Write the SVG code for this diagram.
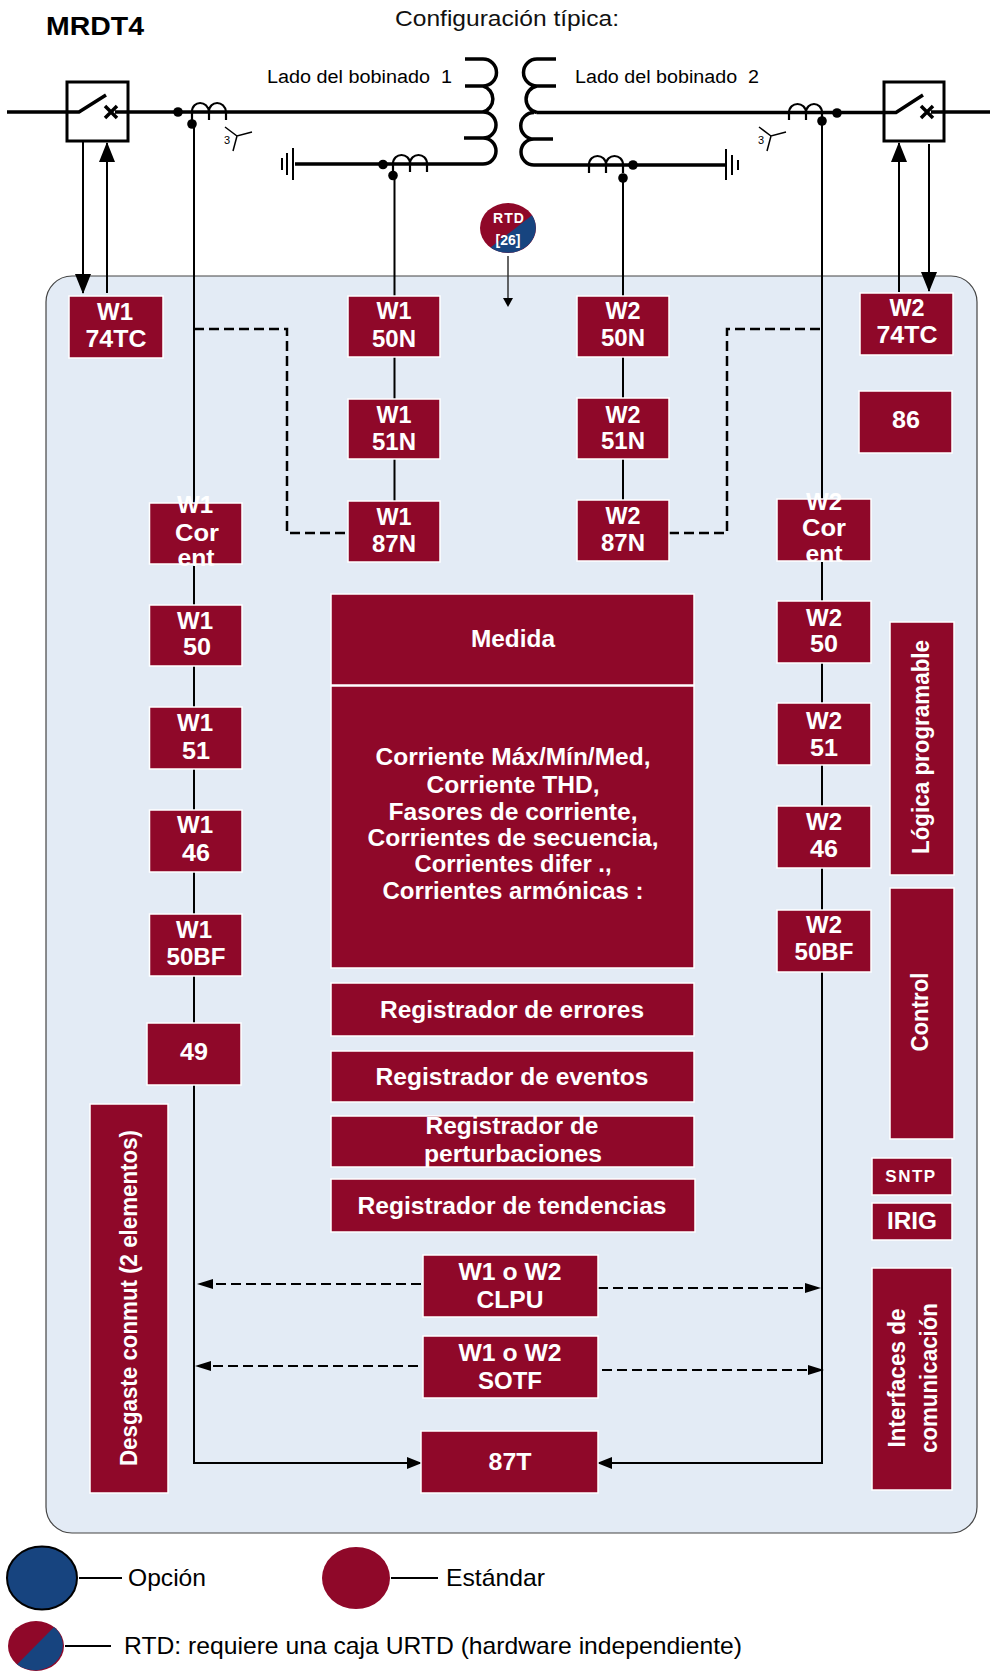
<svg xmlns="http://www.w3.org/2000/svg" width="990" height="1671" viewBox="0 0 990 1671">
<style>
text{font-family:"Liberation Sans",Arial,sans-serif}
.b{fill:#8F0829;stroke:#fff;stroke-width:1.5}
.t{fill:#fff;font-weight:bold;font-size:23px;text-anchor:middle}
.l{fill:none;stroke:#000;stroke-width:2}
.h{fill:none;stroke:#000;stroke-width:3.5}
.c{fill:none;stroke:#000;stroke-width:2.2}
.s{fill:none;stroke:#000;stroke-width:1.5}
.d{fill:none;stroke:#000;stroke-width:2.5;stroke-dasharray:10 5}
.e{fill:none;stroke:#000;stroke-width:2;stroke-dasharray:10 5}
.n{fill:#000;font-size:18px}
.k{fill:#000;font-size:24px}
</style>
<defs>
<marker id="big" markerUnits="userSpaceOnUse" markerWidth="20" markerHeight="16" refX="19" refY="8" viewBox="0 0 20 16" orient="auto" overflow="visible"><path d="M0 0L20 8L0 16Z" fill="#000"/></marker>
<marker id="mid" markerUnits="userSpaceOnUse" markerWidth="15" markerHeight="12" refX="14" refY="6" viewBox="0 0 15 12" orient="auto"><path d="M0 0L15 6L0 12Z" fill="#000"/></marker>
<marker id="small" markerUnits="userSpaceOnUse" markerWidth="16" markerHeight="10" refX="15" refY="5" viewBox="0 0 16 10" orient="auto"><path d="M0 0L16 5L0 10Z" fill="#000"/></marker>
</defs>
<rect width="990" height="1671" fill="#fff"/>
<rect id="panel" x="46" y="276" width="931" height="1257" rx="26" ry="26" fill="#E3EBF5" stroke="#444" stroke-width="1.2"/>
<text id="title" x="46" y="35" font-size="25" font-weight="bold" textLength="98" lengthAdjust="spacingAndGlyphs">MRDT4</text>
<text id="config" x="395" y="26" font-size="22" fill="#111" textLength="224" lengthAdjust="spacingAndGlyphs">Configuración típica:</text>
<g id="connectors">
<path class="h" d="M7 112H79L106 95M105 106L117 118M105 118L117 106M115 112H483"/>
<path class="h" d="M537 112.500H896L923 95M921 106L933 118M921 118L933 106M931 112H990"/>
<path class="h" d="M465 59H483A13.500 13.500 0 0 1 483 86H465M483 86A13.500 13.500 0 0 1 483 112M483 112A13 13 0 0 1 483 138H464M483 138A13 13 0 0 1 483 164"/>
<path class="h" d="M556 59H537A13.500 13.500 0 0 0 537 86H556M537 86A13.500 13.500 0 0 0 537 112.500M534 112.500A13 13 0 0 0 534 139H553M534 139A13 13 0 0 0 534 165"/>
<path class="h" d="M295 164H483M726 165H534"/>
<path class="c" d="M192 120V112C192 100 208 100 209 112V120M209 112C209 100 225 100 226 112V120"/>
<path class="c" d="M393 172V164C393 152 410 152 410 164V172M410 164C410 152 427 152 427 164V172"/>
<path class="c" d="M589 173V165C589 153 606 153 606 165V173M606 165C606 153 623 153 623 165V173"/>
<path class="c" d="M789 120V113C789 101 806 101 806 113V120M806 113C806 101 822 101 822 113V120"/>
<circle cx="178" cy="112" r="4.800"/><circle cx="192" cy="124" r="4.800"/><circle cx="383" cy="164.500" r="4.800"/><circle cx="393" cy="175.500" r="4.800"/>
<circle cx="633" cy="165" r="4.800"/><circle cx="623" cy="178" r="4.800"/><circle cx="837" cy="113" r="4.800"/><circle cx="822" cy="121" r="4.800"/>
<path class="l" d="M293 148V180M287 153V175M282 158V170"/>
<path class="l" d="M726 149V180M732 155V175M738 160V170"/>
<path class="s" d="M225 127L237 136L252 132M237 136L233 151"/>
<path class="s" d="M759 127L771 136L786 132M771 136L767 151"/>
<text x="224" y="144" font-size="11" fill="#000">3</text>
<text x="758" y="144" font-size="11" fill="#000">3</text>
<path class="l" d="M83 141V293" marker-end="url(#big)"/>
<path class="l" d="M107 293V143" marker-end="url(#big)"/>
<path class="l" d="M899 292V143" marker-end="url(#big)"/>
<path class="l" d="M929 144V291" marker-end="url(#big)"/>
<path class="l" d="M194 124V503M194 564V605M194 666V707M194 769V810M194 872V914M194 976V1023"/>
<path class="l" d="M194 1085V1463H421" marker-end="url(#mid)"/>
<path class="l" d="M822 121V499M822 561V601M822 663V703M822 765V806M822 868V910"/>
<path class="l" d="M822 972V1463H598" marker-end="url(#mid)"/>
<path class="l" d="M394.500 175V296M394.500 357V399M394.500 459V501"/>
<path class="l" d="M623 178V296M623 357V398M623 459V500"/>
<path class="d" d="M194 329H287V533H349"/>
<path class="d" d="M669 533H727V329H822"/>
<path class="e" d="M421 1284H198" marker-end="url(#small)"/>
<path class="e" d="M598 1288H820" marker-end="url(#small)"/>
<path class="e" d="M418 1366H196" marker-end="url(#small)"/>
<path class="e" d="M602 1370H823" marker-end="url(#small)"/>
<path d="M508 256V300" fill="none" stroke="#333" stroke-width="1.500"/>
<path d="M503 298H513L508 307Z" fill="#000"/>
<path class="l" d="M79 1578H122M391 1578H438M65 1646H111"/>
</g>
<text id="lado1" class="n" x="267" y="83" xml:space="preserve" textLength="185" lengthAdjust="spacingAndGlyphs">Lado del bobinado  1</text>
<text id="lado2" class="n" x="575" y="83" xml:space="preserve" textLength="184" lengthAdjust="spacingAndGlyphs">Lado del bobinado  2</text>
<g id="breaker1"><rect x="67" y="82" width="61" height="59" fill="none" stroke="#000" stroke-width="3"/></g>
<g id="breaker2"><rect x="884" y="82" width="60" height="59" fill="none" stroke="#000" stroke-width="3"/></g>
<g id="rtd"><ellipse cx="508" cy="228" rx="28" ry="25" fill="#8F0829"/><path d="M490.500 247.500L532 215.300A28 25 0 0 1 490.500 247.500Z" fill="#17447F"/><text x="509" y="223" fill="#fff" font-weight="bold" font-size="14" text-anchor="middle" letter-spacing="1">RTD</text><text x="508" y="245" fill="#fff" font-weight="bold" font-size="14" text-anchor="middle">[26]</text></g>
<g id="w1-74tc"><rect class="b" x="69" y="296" width="94" height="62"/><text class="t" x="115" y="320" textLength="36" lengthAdjust="spacingAndGlyphs">W1</text><text class="t" x="116" y="347" textLength="61" lengthAdjust="spacingAndGlyphs">74TC</text></g>
<g id="w1-50n"><rect class="b" x="348" y="296" width="92" height="61"/><text class="t" x="394" y="319" textLength="35" lengthAdjust="spacingAndGlyphs">W1</text><text class="t" x="394" y="347" textLength="44" lengthAdjust="spacingAndGlyphs">50N</text></g>
<g id="w1-51n"><rect class="b" x="348" y="399" width="92" height="60"/><text class="t" x="394" y="423" textLength="35" lengthAdjust="spacingAndGlyphs">W1</text><text class="t" x="394" y="450" textLength="44" lengthAdjust="spacingAndGlyphs">51N</text></g>
<g id="w1-87n"><rect class="b" x="348" y="501" width="92" height="61"/><text class="t" x="394" y="525" textLength="35" lengthAdjust="spacingAndGlyphs">W1</text><text class="t" x="394" y="552" textLength="44" lengthAdjust="spacingAndGlyphs">87N</text></g>
<g id="w2-50n"><rect class="b" x="577" y="296" width="92" height="61"/><text class="t" x="623" y="319" textLength="35" lengthAdjust="spacingAndGlyphs">W2</text><text class="t" x="623" y="346" textLength="44" lengthAdjust="spacingAndGlyphs">50N</text></g>
<g id="w2-51n"><rect class="b" x="577" y="398" width="92" height="61"/><text class="t" x="623" y="423" textLength="35" lengthAdjust="spacingAndGlyphs">W2</text><text class="t" x="623" y="449" textLength="44" lengthAdjust="spacingAndGlyphs">51N</text></g>
<g id="w2-87n"><rect class="b" x="577" y="500" width="92" height="61"/><text class="t" x="623" y="524" textLength="35" lengthAdjust="spacingAndGlyphs">W2</text><text class="t" x="623" y="551" textLength="44" lengthAdjust="spacingAndGlyphs">87N</text></g>
<g id="w2-74tc"><rect class="b" x="860" y="293" width="93" height="62"/><text class="t" x="907" y="316" textLength="35" lengthAdjust="spacingAndGlyphs">W2</text><text class="t" x="907" y="343" textLength="61" lengthAdjust="spacingAndGlyphs">74TC</text></g>
<g id="n86"><rect class="b" x="859" y="391" width="93" height="62"/><text class="t" x="906" y="428" textLength="28" lengthAdjust="spacingAndGlyphs">86</text></g>
<g id="w1-cor"><rect class="b" x="149.500" y="503" width="92.500" height="61"/><text class="t" x="195" y="513" textLength="36" lengthAdjust="spacingAndGlyphs">W1</text><text class="t" x="197" y="541" textLength="44" lengthAdjust="spacingAndGlyphs">Cor</text><text class="t" x="196" y="566" textLength="37" lengthAdjust="spacingAndGlyphs">ent</text></g>
<g id="w1-50"><rect class="b" x="149.500" y="605" width="92.500" height="61"/><text class="t" x="195" y="629" textLength="36" lengthAdjust="spacingAndGlyphs">W1</text><text class="t" x="197" y="655" textLength="28" lengthAdjust="spacingAndGlyphs">50</text></g>
<g id="w1-51"><rect class="b" x="149.500" y="707" width="92.500" height="62"/><text class="t" x="195" y="731" textLength="36" lengthAdjust="spacingAndGlyphs">W1</text><text class="t" x="196" y="759" textLength="28" lengthAdjust="spacingAndGlyphs">51</text></g>
<g id="w1-46"><rect class="b" x="149.500" y="810" width="92.500" height="62"/><text class="t" x="195" y="833" textLength="36" lengthAdjust="spacingAndGlyphs">W1</text><text class="t" x="196" y="861" textLength="28" lengthAdjust="spacingAndGlyphs">46</text></g>
<g id="w1-50bf"><rect class="b" x="149.500" y="914" width="92.500" height="62"/><text class="t" x="194" y="938" textLength="36" lengthAdjust="spacingAndGlyphs">W1</text><text class="t" x="196" y="965" textLength="59" lengthAdjust="spacingAndGlyphs">50BF</text></g>
<g id="n49"><rect class="b" x="147" y="1023" width="94" height="62"/><text class="t" x="194" y="1060" textLength="28" lengthAdjust="spacingAndGlyphs">49</text></g>
<g id="w2-cor"><rect class="b" x="777" y="499" width="94" height="62"/><text class="t" x="824" y="510" textLength="36" lengthAdjust="spacingAndGlyphs">W2</text><text class="t" x="824" y="536" textLength="44" lengthAdjust="spacingAndGlyphs">Cor</text><text class="t" x="824" y="562" textLength="37" lengthAdjust="spacingAndGlyphs">ent</text></g>
<g id="w2-50"><rect class="b" x="777" y="601" width="94" height="62"/><text class="t" x="824" y="626" textLength="36" lengthAdjust="spacingAndGlyphs">W2</text><text class="t" x="824" y="652" textLength="28" lengthAdjust="spacingAndGlyphs">50</text></g>
<g id="w2-51"><rect class="b" x="777" y="703" width="94" height="62"/><text class="t" x="824" y="729" textLength="36" lengthAdjust="spacingAndGlyphs">W2</text><text class="t" x="824" y="756" textLength="28" lengthAdjust="spacingAndGlyphs">51</text></g>
<g id="w2-46"><rect class="b" x="777" y="806" width="94" height="62"/><text class="t" x="824" y="830" textLength="36" lengthAdjust="spacingAndGlyphs">W2</text><text class="t" x="824" y="857" textLength="28" lengthAdjust="spacingAndGlyphs">46</text></g>
<g id="w2-50bf"><rect class="b" x="777" y="910" width="94" height="62"/><text class="t" x="824" y="933" textLength="36" lengthAdjust="spacingAndGlyphs">W2</text><text class="t" x="824" y="960" textLength="59" lengthAdjust="spacingAndGlyphs">50BF</text></g>
<g id="medida"><rect class="b" x="331" y="594" width="363" height="91"/><text class="t" x="513" y="647" textLength="84" lengthAdjust="spacingAndGlyphs">Medida</text></g>
<g id="corrientes"><rect class="b" x="331" y="686" width="363" height="282"/><text class="t" x="513" y="765" textLength="275" lengthAdjust="spacingAndGlyphs">Corriente Máx/Mín/Med,</text><text class="t" x="513" y="793" textLength="173" lengthAdjust="spacingAndGlyphs">Corriente THD,</text><text class="t" x="513" y="820" textLength="249" lengthAdjust="spacingAndGlyphs">Fasores de corriente,</text><text class="t" x="513" y="846" textLength="291" lengthAdjust="spacingAndGlyphs">Corrientes de secuencia,</text><text class="t" x="513" y="872" textLength="197" lengthAdjust="spacingAndGlyphs">Corrientes difer .,</text><text class="t" x="513" y="899" textLength="261" lengthAdjust="spacingAndGlyphs">Corrientes armónicas :</text></g>
<g id="errores"><rect class="b" x="331" y="983" width="363" height="53"/><text class="t" x="512" y="1018" textLength="264" lengthAdjust="spacingAndGlyphs">Registrador de errores</text></g>
<g id="eventos"><rect class="b" x="331" y="1051" width="363" height="51"/><text class="t" x="512" y="1085" textLength="273" lengthAdjust="spacingAndGlyphs">Registrador de eventos</text></g>
<g id="perturb"><rect class="b" x="331" y="1116" width="363" height="51"/><text class="t" x="512" y="1134" textLength="173" lengthAdjust="spacingAndGlyphs">Registrador de</text><text class="t" x="513" y="1162" textLength="178" lengthAdjust="spacingAndGlyphs">perturbaciones</text></g>
<g id="tend"><rect class="b" x="331" y="1179" width="364" height="53"/><text class="t" x="512" y="1214" textLength="309" lengthAdjust="spacingAndGlyphs">Registrador de tendencias</text></g>
<g id="clpu"><rect class="b" x="423" y="1255" width="175" height="62"/><text class="t" x="510" y="1280" textLength="103" lengthAdjust="spacingAndGlyphs">W1 o W2</text><text class="t" x="510" y="1308" textLength="67" lengthAdjust="spacingAndGlyphs">CLPU</text></g>
<g id="sotf"><rect class="b" x="423" y="1336" width="175" height="62"/><text class="t" x="510" y="1361" textLength="103" lengthAdjust="spacingAndGlyphs">W1 o W2</text><text class="t" x="510" y="1389" textLength="64" lengthAdjust="spacingAndGlyphs">SOTF</text></g>
<g id="n87t"><rect class="b" x="421" y="1431" width="177" height="62"/><text class="t" x="510" y="1470" textLength="43" lengthAdjust="spacingAndGlyphs">87T</text></g>
<g id="logica"><rect class="b" x="890" y="622" width="64" height="253"/><text class="t" transform="translate(929 747) rotate(-90)" x="0" y="0" textLength="214" lengthAdjust="spacingAndGlyphs">Lógica programable</text></g>
<g id="control"><rect class="b" x="890" y="888" width="64" height="251"/><text class="t" transform="translate(928 1012) rotate(-90)" x="0" y="0" textLength="79" lengthAdjust="spacingAndGlyphs">Control</text></g>
<g id="sntp"><rect class="b" x="872" y="1158" width="80" height="37"/><text class="t" x="911" y="1182" style="font-size:17px;letter-spacing:1.500px">SNTP</text></g>
<g id="irig"><rect class="b" x="872" y="1203" width="80" height="37"/><text class="t" x="912" y="1229" textLength="50" lengthAdjust="spacingAndGlyphs">IRIG</text></g>
<g id="interfaces"><rect class="b" x="872" y="1268" width="80" height="222"/><text class="t" transform="translate(905 1378) rotate(-90)" x="0" y="0" textLength="139" lengthAdjust="spacingAndGlyphs">Interfaces de</text><text class="t" transform="translate(937 1378) rotate(-90)" x="0" y="0" textLength="150" lengthAdjust="spacingAndGlyphs">comunicación</text></g>
<g id="desgaste"><rect class="b" x="90" y="1104" width="78" height="389"/><text class="t" transform="translate(137 1298) rotate(-90)" x="0" y="0" textLength="336" lengthAdjust="spacingAndGlyphs">Desgaste conmut (2 elementos)</text></g>
<g id="legend">
<ellipse cx="42" cy="1578" rx="35" ry="31.500" fill="#17447F" stroke="#000" stroke-width="2"/>
<ellipse cx="356" cy="1578" rx="34" ry="31" fill="#8F0829"/>
<ellipse cx="36" cy="1646" rx="28" ry="25" fill="#8F0829"/>
<path d="M17 1664.500L54 1627A28 25 0 0 1 17 1664.500Z" fill="#17447F"/>
<text class="k" x="128" y="1586" textLength="78" lengthAdjust="spacingAndGlyphs">Opción</text>
<text class="k" x="446" y="1586" textLength="99" lengthAdjust="spacingAndGlyphs">Estándar</text>
<text class="k" x="124" y="1654" textLength="618" lengthAdjust="spacingAndGlyphs">RTD: requiere una caja URTD (hardware independiente)</text>
</g>
</svg>
